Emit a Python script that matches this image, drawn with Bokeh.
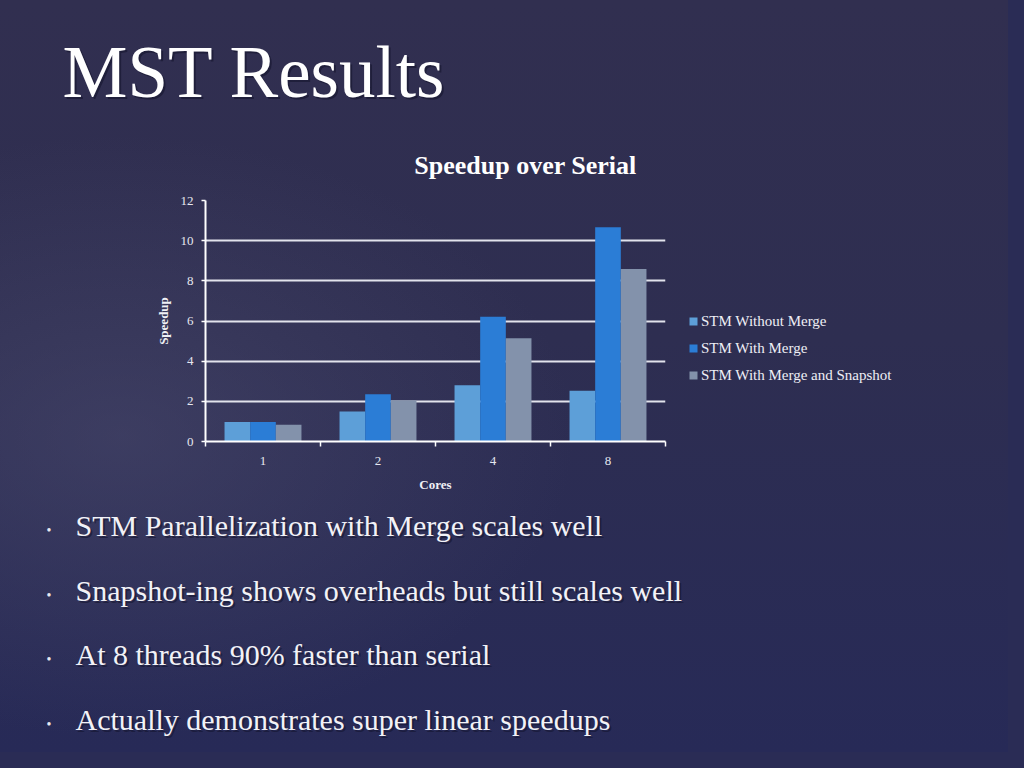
from bokeh.plotting import figure
from bokeh.layouts import column, row
from bokeh.models import (ColumnDataSource, FixedTicker, Label, Legend, LegendItem, Range1d)
from bokeh.embed import file_html
from bokeh.resources import INLINE

# ---- data ----
cores = ["1", "2", "4", "8"]
series_names = ["STM Without Merge", "STM With Merge", "STM With Merge and Snapshot"]
without_merge = [0.97, 1.50, 2.80, 2.53]
with_merge = [0.97, 2.35, 6.21, 10.67]
with_snapshot = [0.83, 2.06, 5.14, 8.59]
y_ticks = [0, 2, 4, 6, 8, 10, 12]
slide_title = "MST Results"
chart_title = "Speedup over Serial"
bullets = [
    "STM Parallelization with Merge scales well",
    "Snapshot-ing shows overheads but still scales well",
    "At 8 threads 90% faster than serial",
    "Actually demonstrates super linear speedups",
]

BG_CSS = ("radial-gradient(ellipse 45% 40% at 12% 58%, rgba(80,80,115,0.45) 0%, rgba(80,80,115,0) 100%), "
          "linear-gradient(180deg, #312f50 0%, #2e2e51 45%, #272a57 100%)")
FONT = "Liberation Serif"
colors = ["#5d9fd8", "#2b7dd6", "#8392ab"]

W = 1008
TOP_H = 190          # page rows 0..190
MID_H = 310          # page rows 190..500
BOT_H = 252          # page rows 500..752
CHART_W = 680
FL, FR, FT, FB = 205, 665, 200, 441   # chart frame in page coords


def transparent(f):
    f.background_fill_color = None
    f.border_fill_color = None
    f.outline_line_color = None


def blank(width, height):
    f = figure(width=width, height=height, output_backend="svg", toolbar_location=None,
               x_range=Range1d(0, width), y_range=Range1d(0, height),
               x_axis_location=None, y_axis_location=None, min_border=0)
    transparent(f)
    f.grid.visible = False
    return f


def lab(f, top, height, text, px, py, size, bold=False, align="left", color="white", shadow=False):
    # py: vertical centre of the text line in page pixels
    x = px
    y = height - (py - top)
    if shadow:
        f.add_layout(Label(x=x + 2, y=y - 2, text=text,
                           text_font=FONT, text_font_size=size, text_color="#12122a",
                           text_alpha=0.55, text_align=align, text_baseline="alphabetic",
                           text_font_style="bold" if bold else "normal"))
    f.add_layout(Label(x=x, y=y, text=text,
                       text_font=FONT, text_font_size=size, text_color=color,
                       text_align=align, text_baseline="alphabetic",
                       text_font_style="bold" if bold else "normal"))


# ---- top: slide title + chart title ----
top = blank(W, TOP_H)
lab(top, 0, TOP_H, slide_title, 62, 72, "73px", shadow=True)
lab(top, 0, TOP_H, chart_title, 525, 165, "26px", bold=True, align="center")

# ---- chart ----
p = figure(width=CHART_W, height=MID_H, output_backend="svg", toolbar_location=None,
           x_range=Range1d(0, len(cores)), y_range=Range1d(0, 12),
           min_border_left=FL, min_border_right=CHART_W - FR,
           min_border_top=FT - TOP_H, min_border_bottom=TOP_H + MID_H - FB)
transparent(p)
p.xgrid.grid_line_color = None
p.ygrid.ticker = FixedTicker(ticks=y_ticks)
p.ygrid.grid_line_color = "#e2e3ec"
p.ygrid.grid_line_width = 2

bw = 0.223
all_vals = [without_merge, with_merge, with_snapshot]
for k, (vals, c) in enumerate(zip(all_vals, colors)):
    xs = [i + 0.5 + (k - 1) * bw for i in range(len(cores))]
    src = ColumnDataSource(dict(x=xs, top=vals))
    p.vbar(x="x", top="top", width=bw, source=src, fill_color=c, line_color=None)

xa = p.xaxis[0]
xa.ticker = FixedTicker(ticks=[i + 0.5 for i in range(len(cores))],
                        minor_ticks=list(range(len(cores) + 1)))
xa.major_label_overrides = {i + 0.5: c for i, c in enumerate(cores)}
xa.major_tick_line_color = None
xa.minor_tick_line_color = "white"
xa.minor_tick_out = 5
xa.minor_tick_in = 0
xa.minor_tick_line_width = 1.5
xa.major_label_standoff = 9
xa.axis_label = "Cores"
xa.axis_label_standoff = 9

ya = p.yaxis[0]
ya.ticker = FixedTicker(ticks=y_ticks)
ya.minor_tick_line_color = None
ya.major_tick_line_color = "white"
ya.major_tick_out = 4
ya.major_tick_in = 0
ya.major_tick_line_width = 1.5
ya.major_label_standoff = 8
ya.axis_label = "Speedup"
ya.axis_label_standoff = 7

for ax in (xa, ya):
    ax.axis_line_color = "white"
    ax.axis_line_width = 2
    ax.major_label_text_font = FONT
    ax.major_label_text_font_size = "13px"
    ax.major_label_text_color = "#e6e7f0"
    ax.axis_label_text_font = FONT
    ax.axis_label_text_font_size = "13px"
    ax.axis_label_text_font_style = "bold"
    ax.axis_label_text_color = "#f0f0f5"

# ---- legend panel (hidden proxy renderers carry the legend swatches) ----
lg = blank(W - CHART_W, MID_H)
leg_r = []
for vals, c in zip(all_vals, colors):
    r = lg.vbar(x=[0], top=[vals[0]], width=1, fill_color=c, line_color=None)
    r.visible = False
    leg_r.append(r)
legend = Legend(items=[LegendItem(label=nm, renderers=[r]) for nm, r in zip(series_names, leg_r)],
                location=(688 - CHART_W, FB - 385), orientation="vertical",
                glyph_width=10, glyph_height=10, label_height=20, spacing=7,
                label_standoff=3, padding=0, margin=0,
                border_line_color=None, background_fill_alpha=0,
                label_text_font=FONT, label_text_font_size="15px",
                label_text_color="#eeeef5")
lg.add_layout(legend, "center")

# ---- bullets ----
bot = blank(W, BOT_H)
centres = [525, 590, 654, 719]
for t, cy in zip(bullets, centres):
    lab(bot, TOP_H + MID_H, BOT_H, "\u2022", 46, cy + 5, "14px", color="#e8e8f0")
    lab(bot, TOP_H + MID_H, BOT_H, t, 75, cy, "30px", color="#f2f2f7", shadow=True)

mid = row(p, lg, spacing=0)
layout = column(top, mid, bot, spacing=0,
                styles={"background": BG_CSS, "box-shadow": "0 0 0 24px #2a2c55"})
open("out.html", "w").write(file_html(layout, INLINE))
